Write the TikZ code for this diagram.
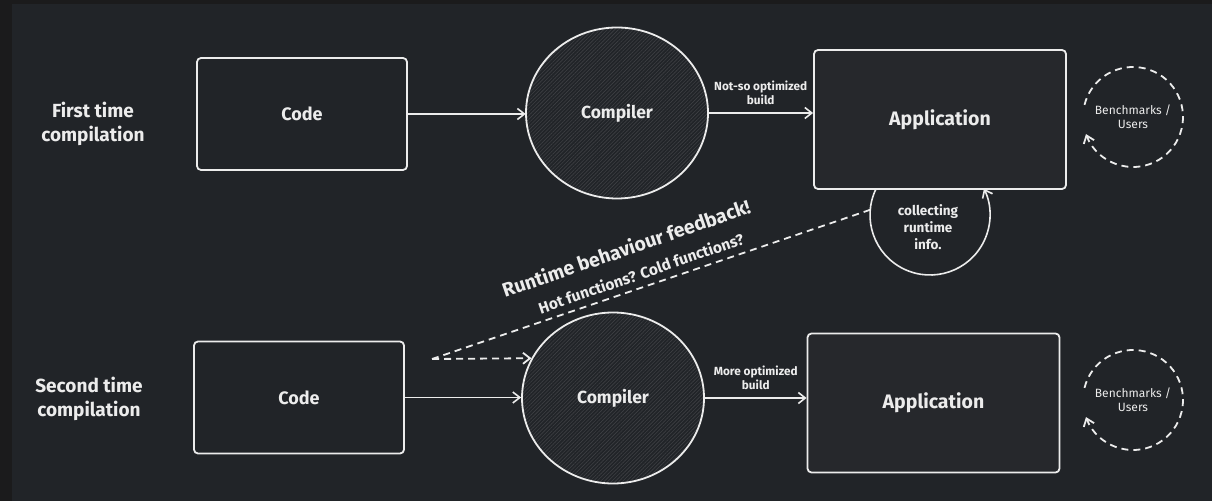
\documentclass[tikz,border=0pt]{standalone}
\usepackage{fontspec}
\setmainfont{Fira Sans}
\usetikzlibrary{arrows.meta,positioning,calc,shapes.geometric,patterns.meta}
\definecolor{jitframe}{HTML}{1B1B1C}
\definecolor{jitbg}{HTML}{212428}
\definecolor{jitbox}{HTML}{26282C}
\definecolor{jitink}{HTML}{ECECEC}
\definecolor{jithatch}{HTML}{3E4044}

\begin{document}
\begin{tikzpicture}[
  x=1pt, y=1pt,
  font=\bfseries, text=jitink,
  codebox/.style={draw=jitink, line width=1.8pt, fill=jitbg, rounded corners=4pt,
                  minimum width=210pt, minimum height=112pt,
                  font=\fontsize{18}{21}\selectfont\bfseries},
  appbox/.style={codebox, fill=jitbox, minimum width=252pt, minimum height=139pt,
                 font=\fontsize{19.5}{22}\selectfont\bfseries},
  compiler/.style={ellipse, draw=jitink, line width=1.8pt, preaction={fill=jitbg},
                   pattern={Lines[angle=45, distance=2.6pt, line width=0.6pt]},
                   pattern color=jithatch, minimum width=182pt, minimum height=171pt,
                   inner sep=0pt, font=\fontsize{17.5}{20}\selectfont\bfseries},
  bench/.style={circle, minimum size=100pt, inner sep=0pt, align=center,
                font=\fontsize{12}{14}\selectfont},
  rowlbl/.style={align=center, font=\fontsize{19}{24}\selectfont\bfseries},
  edgelbl/.style={align=center, font=\fontsize{11.8}{14}\selectfont\bfseries},
  fbtext/.style={rotate=19, inner sep=1pt, font=\fontsize{19.5}{22}\selectfont\bfseries},
  arrow/.style={draw=jitink, line width=1.6pt, -{Straight Barb[length=7pt, width=11pt]}},
  dashline/.style={draw=jitink, line width=1.8pt, dash pattern=on 7pt off 5pt},
]

% ---------------- backdrop ------------------------------------------
\fill[jitframe] (0,0) rectangle (1212,501);
\fill[jitbg] (12,0) rectangle (1212,497);

% ---------------- first time compilation ----------------------------
\node[rowlbl] (first) at (93,377) {First time\\compilation};
\node[codebox] (code1) at (302,387) {Code};
\node[compiler] (comp1) at (617,388) {Compiler};
\node[appbox] (app1) at (940,381.5) {Application};
\node[bench] (bench1) at (1133,384) {Benchmarks /\\Users};

\draw[arrow] (code1.east) -- (code1.east -| comp1.west);
\draw[arrow] (comp1.east) -- (comp1.east -| app1.west)
  node[edgelbl, midway, above=4pt] {Not-so optimized\\build};
\draw[dashline, -{Straight Barb[length=7pt, width=11pt]}]
  ([shift={(166:50)}]bench1.center) arc[start angle=166, end angle=-160, radius=50];

% collecting loop under the application
\coordinate (loopc) at (930,286);
\draw[arrow] ([shift={(154:60)}]loopc) arc[start angle=154, end angle=386, radius=60];
\node[edgelbl, font=\fontsize{13.5}{17}\selectfont\bfseries] (collect) at (928,274)
  {collecting\\runtime\\info.};

% ---------------- second time compilation ---------------------------
\node[rowlbl] (second) at (89,102) {Second time\\compilation};
\node[codebox] (code2) at (299,103.5) {Code};
\node[compiler] (comp2) at (613,103) {Compiler};
\node[appbox] (app2) at (933.5,98) {Application};
\node[bench] (bench2) at (1133,101) {Benchmarks /\\Users};

\draw[arrow] (code2.east) -- (code2.east -| comp2.west);
\draw[arrow] (comp2.east) -- (comp2.east -| app2.west)
  node[edgelbl, midway, above=4pt] {More optimized\\build};
\draw[dashline, -{Straight Barb[length=7pt, width=11pt]}]
  ([shift={(166:50)}]bench2.center) arc[start angle=166, end angle=-160, radius=50];

% ---------------- feedback ------------------------------------------
\coordinate (fbsplit) at (432,142);
\draw[dashline] ([shift={(175:60)}]loopc) -- (fbsplit);
\draw[dashline, -{Straight Barb[length=7pt, width=11pt]}] (fbsplit) -- (comp2.154);

\node[fbtext] (fbhead) at (626,253) {Runtime behaviour feedback!};
\node[fbtext, font=\fontsize{15.5}{18}\selectfont\bfseries] (fbsub) at (641,228)
  {Hot functions? Cold functions?};

\end{tikzpicture}
\end{document}
